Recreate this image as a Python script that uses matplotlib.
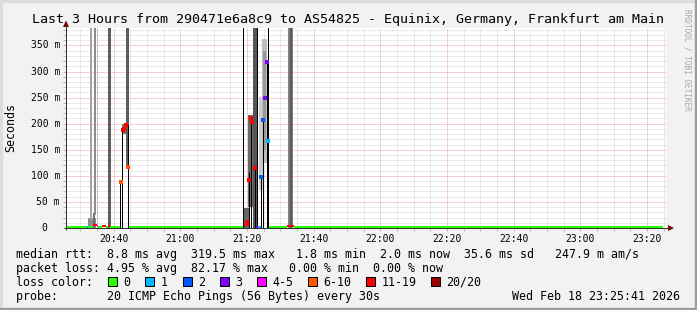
import matplotlib
matplotlib.use("Agg")
import matplotlib.pyplot as plt
from matplotlib.patches import Rectangle, Polygon
from matplotlib.transforms import ScaledTranslation
import datetime as dt

# ---------------- data ----------------
GRAPH_START = dt.datetime(2026, 2, 18, 20, 25, 41)
SPAN_MIN = 180
TITLE = "Last 3 Hours from 290471e6a8c9 to AS54825 - Equinix, Germany, Frankfurt am Main"

y_max_ms = 383.4
y_major_ms = [0, 50, 100, 150, 200, 250, 300, 350]

# all times: minutes after GRAPH_START
# smoke bands (distribution of the 20 pings)
smoke_t0 = [6.6, 8.1, 7.2, 8.4, 9.3, 12.6, 16.8, 18.0, 53.4, 54.6, 56.1, 57.9, 58.8, 59.1, 66.6, 67.2]
smoke_t1 = [9.0, 8.7, 7.8, 9.0, 9.6, 13.5, 18.0, 18.9, 55.2, 56.1, 57.3, 59.4, 60.3, 60.0, 68.1, 67.8]
smoke_lo = [0, 0, 15, 25, 5, 0, 180, 118, 0, 40, 0, 73, 124, 150, 0, 0]
smoke_hi = [20, 29, 400, 400, 400, 400, 200, 400, 38, 217, 400, 252, 362, 340, 400, 400]
smoke_gray = ["#8a8a8a", "#707070", "#a4a4a4", "#8c8c8c", "#c4c4c4", "#5e5e5e", "#6e6e6e",
              "#5e5e5e", "#666666", "#6a6a6a", "#555555", "#cccccc", "#bdbdbd", "#9a9a9a",
              "#808080", "#5a5a5a"]

# low median segments (ms) with loss class
seg_t0 = [0, 6.0, 6.6, 8.1, 9.3, 9.6, 10.8, 12.0, 12.6, 13.2, 18.9, 53.4, 57.0, 57.6, 60.9, 66.3, 68.4]
seg_t1 = [6.0, 6.6, 8.1, 9.3, 9.6, 10.8, 12.0, 12.6, 13.2, 16.3, 53.1, 54.9, 57.6, 58.5, 66.3, 68.4, 179.1]
seg_ms = [2, 2, 2, 5, 3, 2, 4, 2, 3, 2, 2, 5, 2, 2, 2, 4, 2]
seg_loss = ["0", "1", "0", "11-19", "4-5", "0", "11-19", "0", "11-19", "0", "0", "11-19",
            "3", "1", "0", "11-19", "0"]

# dark vertical strokes of the median trace
drop_t = [16.3, 16.9, 18.7, 53.1, 55.0, 55.5, 56.7, 57.3, 58.6, 59.0, 60.2, 60.7]
drop_ms = [88, 190, 197, 400, 108, 210, 115, 400, 97, 207, 319, 400]

# high median samples
dot_t = [16.4, 17.1, 17.4, 17.9, 18.6, 54.3, 55.0, 55.5, 55.8, 56.7, 58.6, 59.0, 59.7, 60.2, 60.7]
dot_ms = [88, 188, 190, 197, 116, 12, 92, 210, 203, 115, 97, 207, 250, 319, 167]
dot_loss = ["6-10", "11-19", "11-19", "11-19", "6-10", "11-19", "11-19", "11-19", "11-19",
            "11-19", "2", "2", "3", "3", "1"]

loss_labels = ["0", "1", "2", "3", "4-5", "6-10", "11-19", "20/20"]
loss_colors = ["#26ff00", "#00b8ff", "#0059ff", "#7e00ff", "#ff00ff", "#ff5500", "#ff0000", "#a10000"]

median_stats = ["8.8 ms avg", "319.5 ms max", "1.8 ms min", "2.0 ms now", "35.6 ms sd", "247.9 m am/s"]
loss_stats = ["4.95 % avg", "82.17 % max", "0.00 % min", "0.00 % now"]
probe_text = "20 ICMP Echo Pings (56 Bytes) every 30s"
stamp_text = "Wed Feb 18 23:25:41 2026"

# ---------------- drawing ----------------
W, H, DPI = 697, 310, 100
plt.rcParams["font.family"] = ["DejaVu Sans Mono"]
LC = dict(zip(loss_labels, loss_colors))
PX = 0.72  # one pixel in points

fig = plt.figure(figsize=(W / DPI, H / DPI), dpi=DPI)
fig.patch.set_facecolor("#f2f2f2")
bg = fig.add_axes([0, 0, 1, 1], zorder=0)
bg.set_xlim(0, W); bg.set_ylim(H, 0); bg.axis("off")
bg.add_patch(Rectangle((0, 0), W, H, color="#f2f2f2"))
bg.add_patch(Rectangle((0, 0), W, 2, color="#dcdcdc"))
bg.add_patch(Rectangle((0, 0), 2, H, color="#dcdcdc"))
bg.add_patch(Rectangle((0, H - 2), W, 2, color="#9c9c9c"))
bg.add_patch(Rectangle((W - 2, 0), 2, H, color="#9c9c9c"))

L, R, T, B = 66, 666, 28, 228
ax = fig.add_axes([L / W, 1 - B / H, (R - L) / W, (B - T) / H], zorder=1)
ax.set_facecolor("white")
ax.set_xlim(0, SPAN_MIN)
ax.set_ylim(0, y_max_ms)
for s in ax.spines.values():
    s.set_visible(False)

# time ticks
def off(t):
    return (t - GRAPH_START).total_seconds() / 60.0

first5 = GRAPH_START.replace(second=0) + dt.timedelta(minutes=5 - GRAPH_START.minute % 5)
minor_x, major_x, major_lab = [], [], []
t = first5
while off(t) < SPAN_MIN:
    if t.minute % 20 == 0:
        major_x.append(off(t)); major_lab.append(t.strftime("%H:%M"))
    else:
        minor_x.append(off(t))
    t += dt.timedelta(minutes=5)
minor_y = [v for v in range(10, int(y_max_ms) + 1, 10) if v % 50 != 0]

dot = (0, (1, 1))
GRID_MINOR = "#d4d4d4"
GRID_MAJOR = "#eaa5a5"
for x in minor_x:
    ax.axvline(x, color=GRID_MINOR, lw=PX, ls=dot, zorder=0.5)
for x in major_x:
    ax.axvline(x, color=GRID_MAJOR, lw=PX, ls=dot, zorder=0.6)
for y in minor_y:
    ax.axhline(y, color=GRID_MINOR, lw=PX, ls=dot, zorder=0.5)
for y in y_major_ms[1:]:
    ax.axhline(y, color=GRID_MAJOR, lw=PX, ls=dot, zorder=0.6)

ax.set_xticks(major_x, major_lab)
ax.set_xticks(minor_x, minor=True)
ax.set_yticks(y_major_ms, [""] * len(y_major_ms))
ax.set_yticks(minor_y, minor=True)
ax.tick_params(which="both", direction="out", length=2.0, width=PX)
ax.tick_params(which="major", color=GRID_MAJOR)
ax.tick_params(which="minor", color="#bbbbbb")
ax.tick_params(axis="x", which="major", labelsize=7, pad=2.5)

# y labels
ytr = ax.get_yaxis_transform()
for v in y_major_ms:
    if v == 0:
        lab, dx = "0", -18.5
    else:
        lab, dx = f"{v} m", -6
    ax.text(0, v, lab, transform=ytr + ScaledTranslation(dx / DPI, 0, fig.dpi_scale_trans),
            ha="right", va="center", fontsize=7, clip_on=False)

# smoke
for t0, t1, lo, hi, g in zip(smoke_t0, smoke_t1, smoke_lo, smoke_hi, smoke_gray):
    ax.bar(t0, hi - lo, bottom=lo, width=t1 - t0, align="edge", color=g, lw=0, zorder=2)

# median trace
ax.vlines(drop_t, 0, drop_ms, color="black", lw=PX, zorder=3)
for t0, t1, v, l in zip(seg_t0, seg_t1, seg_ms, seg_loss):
    ax.hlines(v, t0, t1, color=LC[l], lw=2 * PX, zorder=4)
for tt, v, l in zip(dot_t, dot_ms, dot_loss):
    ax.plot([tt], [v], marker="s", ms=2.2, mew=0, color=LC[l], zorder=5)

# overlay: axes lines, arrows, texts
ov = fig.add_axes([0, 0, 1, 1], zorder=3)
ov.set_xlim(0, W); ov.set_ylim(H, 0); ov.axis("off"); ov.patch.set_alpha(0)
ov.plot([L, L], [B + 2, 25], color="#333333", lw=PX, solid_capstyle="butt")
ov.plot([L - 2, 669], [B, B], color="#333333", lw=PX, solid_capstyle="butt")
ov.add_patch(Polygon([[L - 3, 27], [L + 3, 27], [L, 20.5]], closed=True, color="#800000", lw=0))
ov.add_patch(Polygon([[668, B - 3], [668, B + 3], [674, B]], closed=True, color="#800000", lw=0))

ov.text(348, 19.5, TITLE, ha="center", va="center", fontsize=9.6)
ov.text(10.5, 127.5, "Seconds", rotation=90, ha="center", va="center", fontsize=8.35)
ov.text(687.5, 60, "RRDTOOL / TOBI OETIKER", rotation=270, ha="center", va="center",
        fontsize=5.6, color="#a8a8a8")

LEG_FS = 8.35
line1 = ("median rtt:  " + median_stats[0] + "  " + median_stats[1] + "   " + median_stats[2]
         + "  " + median_stats[3] + "  " + median_stats[4] + "   " + median_stats[5])
line2 = ("packet loss: " + loss_stats[0] + "  " + loss_stats[1] + "   " + loss_stats[2]
         + "  " + loss_stats[3])
ov.text(16, 254.5, line1, ha="left", va="center", fontsize=LEG_FS)
ov.text(16, 268.3, line2, ha="left", va="center", fontsize=LEG_FS)
ov.text(16, 282.2, "loss color:", ha="left", va="center", fontsize=LEG_FS)
ov.text(16, 296.3, "probe:       " + probe_text, ha="left", va="center", fontsize=LEG_FS)
ov.text(680.5, 296.3, stamp_text, ha="right", va="center", fontsize=LEG_FS)

CW = 6.98
bx = 108.3
for lab, col in zip(loss_labels, loss_colors):
    ov.add_patch(Rectangle((bx, 277), 9, 9, facecolor=col, edgecolor="black", lw=PX))
    ov.text(bx + 15, 282.2, lab, ha="left", va="center", fontsize=LEG_FS)
    bx += 15 + len(lab) * CW + 15.2

fig.savefig("out.png", dpi=DPI, facecolor=fig.get_facecolor())
